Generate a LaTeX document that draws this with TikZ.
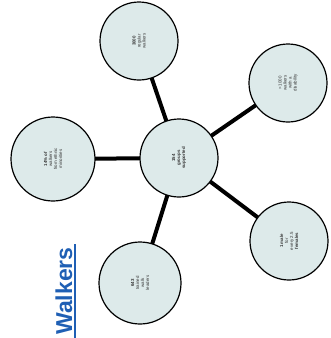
\documentclass[tikz,border=0pt]{standalone}
\usepackage{fontspec}
\setmainfont{Liberation Sans}
\definecolor{bub}{HTML}{DDEAEA}
\definecolor{wblue}{HTML}{1F5FB4}
\begin{document}
\begin{tikzpicture}[x=1pt,y=-1pt,
  bubble/.style={circle,draw=black,line width=1.2pt,fill=bub,minimum size=78pt,inner sep=0pt},
  txt/.style={rotate=90,align=center,font=\fontsize{4.4}{5}\selectfont,text=black!80},
  spoke/.style={line width=4pt,black}]
\useasboundingbox (0,0) rectangle (331,338);
\coordinate (c) at (179,158);
\coordinate (t) at (139,41);
\coordinate (tr) at (288,83);
\coordinate (l) at (53,159);
\coordinate (br) at (289,241);
\coordinate (b) at (140,283);
\draw[spoke] (c) -- (t);
\draw[spoke] (c) -- (tr);
\draw[spoke] (c) -- (l);
\draw[spoke] (c) -- (br);
\draw[spoke] (c) -- (b);
\node[bubble] (cn) at (c) {};
\node[bubble] (tn) at (t) {};
\node[bubble] (trn) at (tr) {};
\node[bubble,minimum size=84pt] (ln) at (l) {};
\node[bubble] (brn) at (br) {};
\node[bubble,minimum size=82pt] (bn) at (b) {};
\node[txt] (ct) at (cn) {\textbf{154}\\\textbf{groups}\\\textbf{supported}};
\node[txt] (tt) at (tn) {\textbf{3000}\\regular\\walkers};
\node[txt] (trt) at (trn) {> 1000\\walkers\\with a\\disability};
\node[txt] (lt) at (ln) {\textbf{14\% of}\\walkers\\from ethnic\\minorities};
\node[txt] (brt) at (brn) {\textbf{1 male}\\for\\every 2.5\\\textbf{females}};
\node[txt] (bt) at (bn) {\textbf{643}\\trained\\walk\\leaders};
\node[rotate=90,font=\fontsize{23}{23}\selectfont\bfseries,text=wblue,inner sep=0pt] (w) at (64,291) {Walkers};
\coordinate (u1) at (75,244);
\coordinate (u2) at (75,338);
\draw[wblue,line width=1.6pt] (u1) -- (u2);
\end{tikzpicture}
\end{document}
